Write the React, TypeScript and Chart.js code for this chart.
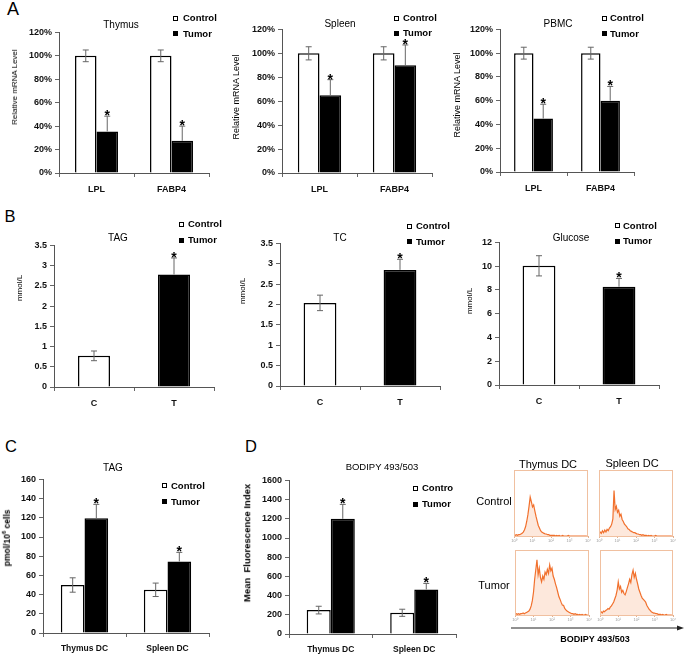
import React, { useEffect, useRef } from 'react';
import { Chart, registerables } from 'chart.js';
Chart.register(...registerables);

const FONT = 'Arial, "Liberation Sans", Helvetica, sans-serif';
Chart.defaults.font.family = FONT;

// ---------- Panel A: relative mRNA level (%) ----------
const mrnaGenes = ['LPL', 'FABP4'];
const thymusControl = [100, 100];
const thymusControlErr = [5, 5];
const thymusTumor = [35.5, 27.5];
const thymusTumorErr = [13, 12.5];
const spleenControl = [100, 100];
const spleenControlErr = [5.5, 5.5];
const spleenTumor = [65, 90];
const spleenTumorErr = [13, 17];
const pbmcControl = [100, 100];
const pbmcControlErr = [5, 5];
const pbmcTumor = [45, 60];
const pbmcTumorErr = [12, 12];

// ---------- Panel B: serum (mmol/L) ----------
const serumGroups = ['C', 'T'];
const serumTag = [0.77, 2.78];
const serumTagErr = [0.12, 0.41];
const serumTc = [2.04, 2.85];
const serumTcErr = [0.19, 0.26];
const serumGlucose = [10.03, 8.27];
const serumGlucoseErr = [0.85, 0.7];

// ---------- Panels C / D ----------
const dcGroups = ['Thymus DC', 'Spleen DC'];
const dcTagControl = [50, 45];
const dcTagControlErr = [7.5, 7];
const dcTagTumor = [119.5, 74.5];
const dcTagTumorErr = [14.5, 9.5];
const bodipyControl = [249, 221];
const bodipyControlErr = [40, 37];
const bodipyTumor = [1200, 464];
const bodipyTumorErr = [150, 63];

// ---------- Flow histograms (relative counts per bin, 16 bins per decade) ----------
const histDecades = ['10⁰', '10¹', '10²', '10³', '10⁴'];
const histThymusControl = [1, 1, 2, 1, 2, 2, 3, 4, 6, 9, 14, 22, 32, 45, 59, 52, 44, 47, 38, 30, 23, 16, 12, 8, 6, 5, 4, 3, 3, 2, 2, 1, 1, 1, 1, 1, 0, 1, 0, 1, 0, 0, 1, 0, 0, 0, 0, 1, 0, 0, 0, 0, 0, 0, 0, 0, 0, 0, 0, 0, 0, 0, 0, 0];
const histSpleenControl = [3, 6, 4, 8, 5, 9, 6, 10, 8, 12, 14, 18, 26, 69, 40, 45, 36, 39, 30, 33, 25, 22, 18, 16, 14, 11, 10, 8, 7, 6, 5, 5, 4, 3, 3, 2, 2, 1, 2, 1, 1, 1, 0, 1, 0, 1, 0, 0, 0, 1, 0, 0, 0, 0, 0, 0, 0, 0, 0, 0, 0, 0, 0, 0];
const histThymusTumor = [1, 2, 1, 2, 1, 2, 2, 3, 2, 3, 4, 5, 6, 9, 14, 22, 35, 55, 70, 85, 62, 72, 58, 51, 60, 55, 66, 62, 70, 64, 77, 68, 72, 60, 55, 48, 42, 35, 28, 24, 19, 15, 15, 10, 8, 6, 5, 4, 3, 2, 2, 1, 2, 1, 1, 0, 1, 0, 1, 0, 0, 1, 0, 0];
const histSpleenTumor = [4, 5, 3, 6, 5, 7, 8, 10, 9, 12, 14, 17, 20, 25, 30, 38, 51, 40, 44, 35, 38, 33, 31, 36, 42, 48, 55, 50, 62, 69, 58, 64, 55, 48, 40, 35, 30, 26, 24, 22, 20, 15, 12, 9, 7, 5, 4, 3, 3, 2, 2, 1, 1, 1, 0, 1, 0, 0, 1, 0, 0, 0, 0, 0];

const errorBarsPlugin = {
  id: 'errorBars',
  afterDatasetsDraw(chart: any) {
    const ctx = chart.ctx;
    const yScale = chart.scales.y;
    chart.data.datasets.forEach((ds: any, di: number) => {
      const meta = chart.getDatasetMeta(di);
      meta.data.forEach((bar: any, i: number) => {
        const v = ds.data[i];
        const e = ds.errors ? ds.errors[i] : 0;
        const x = bar.x;
        const yMid = yScale.getPixelForValue(v);
        const yTop = yScale.getPixelForValue(v + e);
        const yBot = yScale.getPixelForValue(v - e);
        const showLower = ds.lower ? ds.lower[i] : true;
        ctx.save();
        ctx.strokeStyle = '#666';
        ctx.lineWidth = 1;
        ctx.beginPath();
        ctx.moveTo(x, yTop);
        ctx.lineTo(x, showLower ? yBot : yMid);
        ctx.moveTo(x - 3, yTop);
        ctx.lineTo(x + 3, yTop);
        if (showLower) {
          ctx.moveTo(x - 3, yBot);
          ctx.lineTo(x + 3, yBot);
        }
        ctx.stroke();
        if (ds.stars && ds.stars[i]) {
          ctx.fillStyle = '#000';
          ctx.font = `bold 14px ${FONT}`;
          ctx.textAlign = 'center';
          ctx.textBaseline = 'alphabetic';
          const m = ctx.measureText('*');
          const center = yTop - 3;
          const base = center + (m.actualBoundingBoxAscent - m.actualBoundingBoxDescent) / 2;
          ctx.fillText('*', x, base);
        }
        ctx.restore();
      });
    });
  },
};

type BarProps = {
  rect: number[];
  labels: string[];
  datasets: any[];
  min: number;
  max: number;
  step: number;
  fmt: (v: number) => string;
  catPct: number;
  labelSize?: number;
};

function BarChart({ rect, labels, datasets, min, max, step, fmt, catPct, labelSize = 9 }: BarProps) {
  const ref = useRef<HTMLCanvasElement>(null);
  const L = 44, R = 4, T = 8, B = 26;
  const [x0, y0, x1, y1] = rect;
  const W = Math.round(x1 - x0) + L + R;
  const H = Math.round(y1 - y0) + T + B;
  useEffect(() => {
    const chart = new Chart(ref.current as HTMLCanvasElement, {
      type: 'bar',
      data: {
        labels,
        datasets: datasets.map((d) => ({
          ...d,
          borderWidth: 1.5,
          borderColor: '#000',
          categoryPercentage: catPct,
          barPercentage: 1,
        })),
      },
      options: {
        responsive: false,
        animation: false,
        layout: { padding: { left: 0, right: R, top: T, bottom: 0 } },
        plugins: { legend: { display: false }, tooltip: { enabled: false }, title: { display: false } },
        scales: {
          x: {
            grid: { drawOnChartArea: false, tickLength: 4, color: '#666' },
            border: { color: '#555', width: 1 },
            ticks: { font: { size: labelSize, weight: 'bold', family: FONT }, color: '#111', padding: 7, maxRotation: 0 },
            afterFit: (s: any) => { s.height = B; },
          },
          y: {
            min,
            max,
            grid: { drawOnChartArea: false, tickLength: 4, color: '#666' },
            border: { color: '#555', width: 1 },
            ticks: {
              stepSize: step,
              autoSkip: false,
              callback: (v: any) => fmt(Number(v)),
              font: { size: 9, weight: 'bold', family: FONT },
              color: '#111',
              padding: 3,
            },
            afterFit: (s: any) => { s.width = L; },
          },
        },
      } as any,
      plugins: [errorBarsPlugin],
    });
    return () => chart.destroy();
  }, []);
  return (
    <canvas
      ref={ref}
      width={W}
      height={H}
      style={{ position: 'absolute', left: Math.round(x0) - L, top: Math.round(y0) - T, width: W, height: H }}
    />
  );
}

const boxPlugin = {
  id: 'histBox',
  afterDraw(chart: any) {
    const { ctx, chartArea } = chart;
    ctx.save();
    ctx.strokeStyle = '#f0c0a0';
    ctx.lineWidth = 1;
    ctx.strokeRect(chartArea.left + 0.5, chartArea.top + 0.5, chartArea.right - chartArea.left - 1, chartArea.bottom - chartArea.top);
    ctx.restore();
  },
};

function Histogram({ rect, values }: { rect: number[]; values: number[] }) {
  const ref = useRef<HTMLCanvasElement>(null);
  const P = 5, B = 6;
  const [x0, y0, x1, y1] = rect;
  const W = x1 - x0 + 2 * P;
  const H = y1 - y0 + B + 1;
  useEffect(() => {
    const chart = new Chart(ref.current as HTMLCanvasElement, {
      type: 'line',
      data: {
        datasets: [
          {
            data: values.map((v, i) => ({ x: i / 16, y: v })),
            borderColor: 'rgba(240,105,35,0.95)',
            backgroundColor: 'rgba(247,150,95,0.22)',
            fill: 'origin',
            pointRadius: 0,
            borderWidth: 1.2,
            tension: 0,
          },
        ],
      },
      options: {
        responsive: false,
        animation: false,
        layout: { padding: { left: P, right: P, top: 1, bottom: 0 } },
        plugins: { legend: { display: false }, tooltip: { enabled: false } },
        scales: {
          x: {
            type: 'linear',
            min: 0,
            max: 4,
            grid: { drawOnChartArea: false, tickLength: 2, color: '#e0b090' },
            border: { display: false },
            ticks: {
              stepSize: 1,
              callback: (v: any) => histDecades[Number(v)],
              font: { size: 4, family: FONT },
              color: '#999',
              padding: 0,
              maxRotation: 0,
            },
            afterFit: (s: any) => { s.height = B; },
          },
          y: { display: false, min: 0, max: 100 },
        },
      } as any,
      plugins: [boxPlugin],
    });
    return () => chart.destroy();
  }, []);
  return (
    <canvas
      ref={ref}
      width={W}
      height={H}
      style={{ position: 'absolute', left: x0 - P, top: y0 - 1, width: W, height: H }}
    />
  );
}

function Txt({ x, y, size, bold, rotate, children }: any) {
  return (
    <div
      style={{
        position: 'absolute',
        left: x,
        top: y,
        transform: `translate(-50%,-50%)${rotate ? ' rotate(-90deg)' : ''}`,
        fontSize: size,
        fontWeight: bold ? 'bold' : 'normal',
        fontFamily: FONT,
        whiteSpace: 'nowrap',
        lineHeight: 1,
        color: '#000',
      }}
    >
      {children}
    </div>
  );
}

function LegendItem({ sx, cy, tx, filled, label }: any) {
  return (
    <>
      <div
        style={{
          position: 'absolute',
          left: sx,
          top: cy - 2.5,
          width: 5,
          height: 5,
          boxSizing: 'border-box',
          border: '1px solid #000',
          background: filled ? '#000' : '#fff',
        }}
      />
      <div
        style={{
          position: 'absolute',
          left: tx,
          top: cy,
          transform: 'translateY(-50%)',
          fontSize: 9.5,
          fontWeight: 'bold',
          fontFamily: FONT,
          lineHeight: 1,
          whiteSpace: 'nowrap',
        }}
      >
        {label}
      </div>
    </>
  );
}

function Legend({ sx, c1, c2, tx, first = 'Control' }: any) {
  return (
    <>
      <LegendItem sx={sx} cy={c1} tx={tx} filled={false} label={first} />
      <LegendItem sx={sx} cy={c2} tx={tx} filled={true} label="Tumor" />
    </>
  );
}

const pct = (v: number) => `${v}%`;
const plain = (v: number) => String(v);

function pair(control: number[], cErr: number[], tumor: number[], tErr: number[]) {
  return [
    { data: control, errors: cErr, stars: [false, false], lower: [true, true], backgroundColor: '#fff' },
    { data: tumor, errors: tErr, stars: [true, true], lower: [false, false], backgroundColor: '#000' },
  ];
}

function single(values: number[], errs: number[]) {
  return [{ data: values, errors: errs, stars: [false, true], lower: [true, false], backgroundColor: ['#fff', '#000'] }];
}

export default function App() {
  return (
    <div
      style={{
        position: 'fixed',
        left: 0,
        top: 0,
        width: 685,
        height: 655,
        background: '#fff',
        overflow: 'hidden',
        fontFamily: FONT,
      }}
    >
      {/* Panel letters */}
      <Txt x={13} y={9} size={18}>A</Txt>
      <Txt x={10} y={216} size={16.5}>B</Txt>
      <Txt x={11} y={446} size={16.5}>C</Txt>
      <Txt x={251} y={446} size={16.5}>D</Txt>

      {/* Panel A */}
      <BarChart rect={[59, 32, 209, 173]} labels={mrnaGenes} datasets={pair(thymusControl, thymusControlErr, thymusTumor, thymusTumorErr)} min={0} max={120} step={20} fmt={pct} catPct={0.573} />
      <BarChart rect={[282, 29, 432, 173]} labels={mrnaGenes} datasets={pair(spleenControl, spleenControlErr, spleenTumor, spleenTumorErr)} min={0} max={120} step={20} fmt={pct} catPct={0.577} />
      <BarChart rect={[500, 29, 634, 172]} labels={mrnaGenes} datasets={pair(pbmcControl, pbmcControlErr, pbmcTumor, pbmcTumorErr)} min={0} max={120} step={20} fmt={pct} catPct={0.58} />
      <Txt x={121} y={25} size={10}>Thymus</Txt>
      <Txt x={340} y={24} size={10}>Spleen</Txt>
      <Txt x={558} y={24} size={10}>PBMC</Txt>
      <Txt x={15} y={87} size={8} rotate>Relative mRNA Level</Txt>
      <Txt x={236} y={97} size={9} rotate>Relative mRNA Level</Txt>
      <Txt x={457} y={95} size={9} rotate>Relative mRNA Level</Txt>
      <Legend sx={173} c1={18} c2={33.5} tx={183} />
      <Legend sx={394} c1={18} c2={33} tx={403} />
      <Legend sx={602} c1={18.3} c2={33.7} tx={610} />

      {/* Panel B */}
      <BarChart rect={[54, 245, 214, 387]} labels={serumGroups} datasets={single(serumTag, serumTagErr)} min={0} max={3.5} step={0.5} fmt={plain} catPct={0.4} />
      <BarChart rect={[280, 243, 440, 386]} labels={serumGroups} datasets={single(serumTc, serumTcErr)} min={0} max={3.5} step={0.5} fmt={plain} catPct={0.41} />
      <BarChart rect={[499, 242, 659, 385]} labels={serumGroups} datasets={single(serumGlucose, serumGlucoseErr)} min={0} max={12} step={2} fmt={plain} catPct={0.41} />
      <Txt x={118} y={238} size={10}>TAG</Txt>
      <Txt x={340} y={238} size={10}>TC</Txt>
      <Txt x={571} y={237.5} size={10}>Glucose</Txt>
      <Txt x={20} y={288} size={8} rotate>mmol/L</Txt>
      <Txt x={243} y={291} size={8} rotate>mmol/L</Txt>
      <Txt x={470} y={301} size={8} rotate>mmol/L</Txt>
      <Legend sx={179} c1={224.3} c2={240} tx={188} />
      <Legend sx={407} c1={226} c2={241.7} tx={416} />
      <Legend sx={614.5} c1={225.7} c2={241} tx={623} />

      {/* Panel C */}
      <BarChart rect={[43, 479, 209, 633]} labels={dcGroups} datasets={pair(dcTagControl, dcTagControlErr, dcTagTumor, dcTagTumorErr)} min={0} max={160} step={20} fmt={plain} catPct={0.57} labelSize={8.5} />
      <Txt x={113} y={468} size={10}>TAG</Txt>
      <Txt x={6} y={538} size={8.5} bold rotate>
        pmol/10<sup style={{ fontSize: 6 }}>6</sup> cells
      </Txt>
      <Legend sx={162} c1={485.7} c2={501.7} tx={171} />

      {/* Panel D */}
      <BarChart rect={[289, 480, 456, 634]} labels={dcGroups} datasets={pair(bodipyControl, bodipyControlErr, bodipyTumor, bodipyTumorErr)} min={0} max={1600} step={200} fmt={plain} catPct={0.576} labelSize={8.5} />
      <Txt x={382} y={467} size={9.5}>BODIPY 493/503</Txt>
      <Txt x={247} y={543} size={9.5} bold rotate>Mean&nbsp; Fluorescence Index</Txt>
      <Legend sx={413} c1={488.3} c2={504} tx={422} first="Contro" />

      {/* Flow histograms */}
      <Histogram rect={[514, 470, 588, 536]} values={histThymusControl} />
      <Histogram rect={[599, 470, 673, 536]} values={histSpleenControl} />
      <Histogram rect={[515, 550, 589, 615]} values={histThymusTumor} />
      <Histogram rect={[600, 550, 673, 615]} values={histSpleenTumor} />
      <Txt x={548} y={464} size={11}>Thymus DC</Txt>
      <Txt x={632} y={463} size={11}>Spleen DC</Txt>
      <Txt x={494} y={501} size={11}>Control</Txt>
      <Txt x={494} y={585} size={11}>Tumor</Txt>
      <svg style={{ position: 'absolute', left: 0, top: 0 }} width={685} height={655}>
        <line x1={511} y1={628} x2={681} y2={628} stroke="#222" strokeWidth={1} />
        <polygon points="684,628 677,625.5 677,630.5" fill="#222" />
      </svg>
      <Txt x={595} y={639} size={9} bold>BODIPY 493/503</Txt>
    </div>
  );
}
